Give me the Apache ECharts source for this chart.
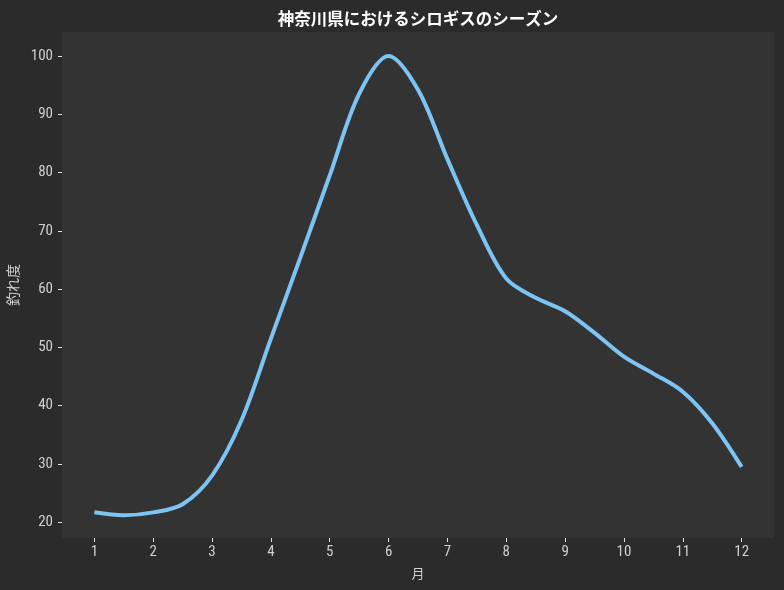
<!DOCTYPE html>
<html><head><meta charset="utf-8">
<script src="https://cdn.jsdelivr.net/npm/echarts@6/dist/echarts.min.js"></script>
<style>html,body{margin:0;padding:0;background:#2b2b2b;}#c{width:784px;height:590px;}</style>
</head><body><div id="c"></div>
<script>
const months = [1, 1.5, 2, 2.5, 3, 3.5, 4, 4.5, 5, 5.5, 6, 6.5, 7, 7.5, 8, 8.5, 9, 9.5, 10, 10.5, 11, 11.5, 12];
const scores = [21.7, 21.2, 21.7, 23.1, 28, 37.5, 51.5, 65.4, 79.5, 93.5, 100, 94.2, 82.3, 71, 61.8, 58.5, 56.2, 52.5, 48.4, 45.5, 42.4, 37, 29.5];
const xTicks = [1,2,3,4,5,6,7,8,9,10,11,12];
const yTicks = [20,30,40,50,60,70,80,90,100];
const title = '神奈川県におけるシロギスのシーズン';
const xName = '月';
const yName = '釣れ度';

const font = '"Noto Sans CJK JP", "Noto Sans", sans-serif';
const numFont = '"Liberation Sans Narrow", "Roboto Condensed", "Noto Sans CJK JP", sans-serif';
const chart = echarts.init(document.getElementById('c'));
chart.setOption({
  backgroundColor: '#2b2b2b',
  animation: false,
  title: {
    text: title, left: 413, textAlign: 'center', top: 5,
    textStyle: {color: '#ffffff', fontSize: 16.5, fontWeight: 'bold', fontFamily: font}
  },
  grid: {left: 62, right: 10, top: 32, bottom: 52, show: true, backgroundColor: '#333333', borderWidth: 0, outerBoundsMode: 'none', containLabel: false},
  xAxis: {
    type: 'value', min: 0.45, max: 12.55,
    name: xName, nameLocation: 'middle', nameGap: 29,
    nameTextStyle: {color: '#d0d0d0', fontSize: 13, fontFamily: font},
    axisLine: {show: false},
    splitLine: {show: false},
    axisTick: {show: true, length: 4, lineStyle: {color: '#e0e0e0', width: 1}, customValues: xTicks},
    axisLabel: {color: '#d0d0d0', fontSize: 15, fontFamily: numFont, margin: 7, customValues: xTicks}
  },
  yAxis: {
    type: 'value', min: 17.3, max: 104.1,
    name: yName, nameLocation: 'middle', nameGap: 40, nameRotate: 90,
    nameTextStyle: {color: '#d0d0d0', fontSize: 14, fontFamily: font},
    axisLine: {show: false},
    splitLine: {show: false},
    axisTick: {show: true, length: 4, lineStyle: {color: '#e0e0e0', width: 1}, customValues: yTicks},
    axisLabel: {color: '#d0d0d0', fontSize: 15, fontFamily: numFont, margin: 9, customValues: yTicks}
  },
  series: [{
    type: 'line',
    data: months.map((m, i) => [m, scores[i]]),
    smooth: 0.33,
    symbol: 'none',
    lineStyle: {color: '#7cc4f4', width: 4}
  }]
});
</script></body></html>
